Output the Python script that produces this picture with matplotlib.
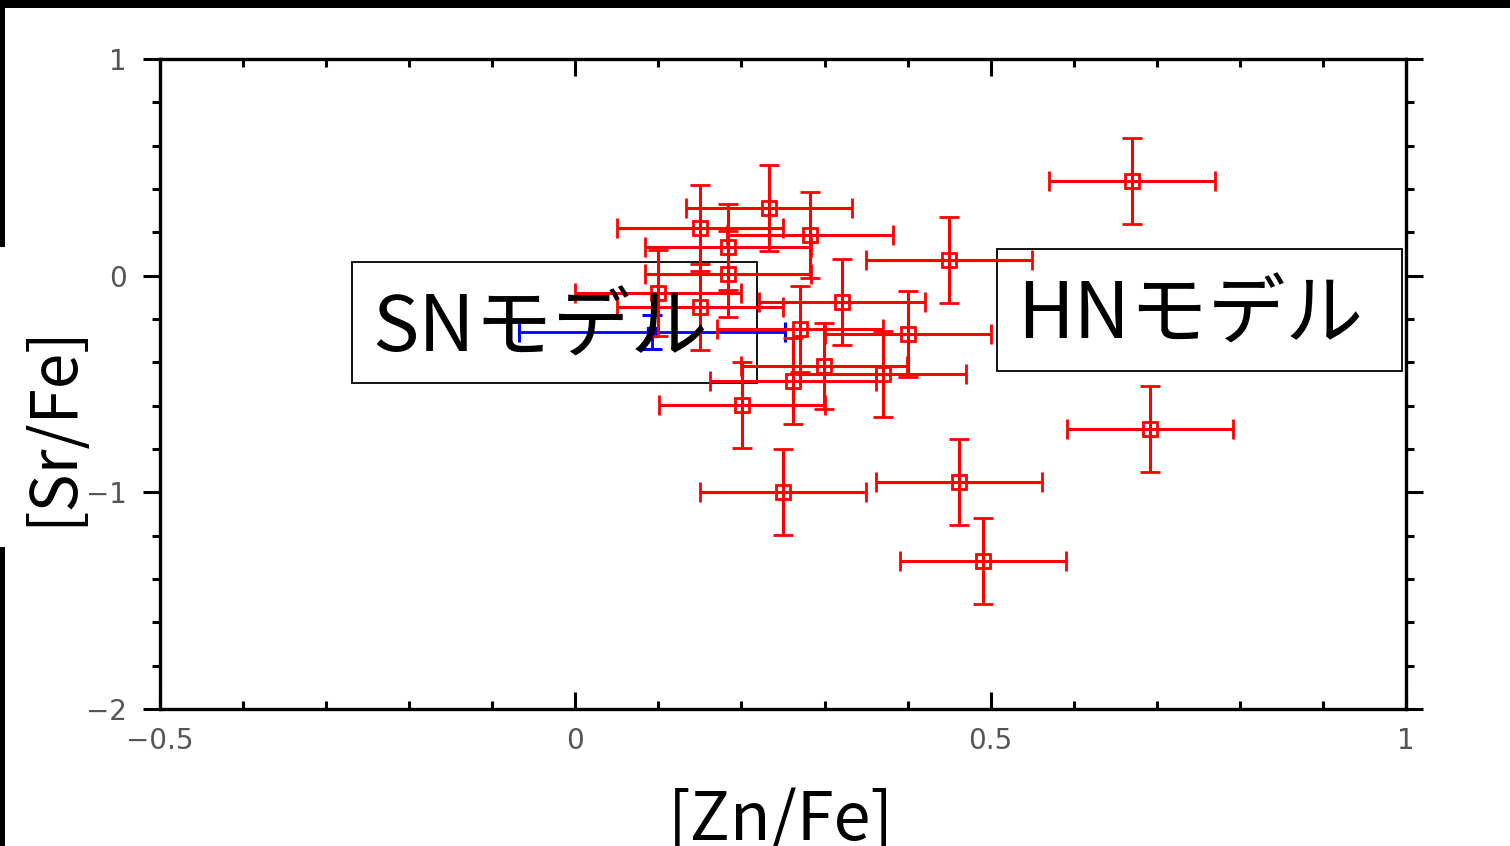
import matplotlib
matplotlib.use('Agg')
import matplotlib.pyplot as plt
from matplotlib.patches import Rectangle
from matplotlib.ticker import MultipleLocator

# red points: [Zn/Fe], [Sr/Fe] with errors
zn_fe = [0.670, 0.233, 0.150, 0.283, 0.184, 0.450, 0.184, 0.100, 0.321, 0.150,
         0.270, 0.400, 0.299, 0.370, 0.262, 0.692, 0.201, 0.250, 0.462, 0.491]
sr_fe = [0.437, 0.312, 0.220, 0.188, 0.132, 0.072, 0.008, -0.080, -0.122, -0.145,
         -0.246, -0.269, -0.417, -0.454, -0.486, -0.708, -0.597, -0.998, -0.952, -1.317]
zn_err = [0.10, 0.10, 0.10, 0.10, 0.10, 0.10, 0.10, 0.10, 0.10, 0.10,
          0.10, 0.10, 0.10, 0.10, 0.10, 0.10, 0.10, 0.10, 0.10, 0.10]
sr_err = [0.20, 0.20, 0.20, 0.20, 0.20, 0.20, 0.20, 0.20, 0.20, 0.20,
          0.20, 0.20, 0.20, 0.20, 0.20, 0.20, 0.20, 0.20, 0.20, 0.20]

# blue point
blue_x, blue_y = [0.092], [-0.26]
blue_xerr, blue_yerr = [0.16], [0.08]

jp = ['Noto Sans CJK JP', 'DejaVu Sans']

fig = plt.figure(figsize=(15.1, 8.46), dpi=100)
ax = fig.add_axes([160/1510, 137/846, 1246/1510, 650/846])

ax.errorbar(blue_x, blue_y, xerr=blue_xerr, yerr=blue_yerr, fmt='s', color='blue',
            ms=7, elinewidth=2, capsize=7, capthick=2.2, zorder=2)
ax.errorbar(zn_fe, sr_fe, xerr=zn_err, yerr=sr_err, fmt='s', color='red',
            mfc='none', mec='red', ms=10.5, mew=2, elinewidth=2.2,
            capsize=7, capthick=2.4, zorder=3)

ax.set_xlim(-0.5, 1)
ax.set_ylim(-2, 1)
ax.xaxis.set_major_locator(MultipleLocator(0.5))
ax.xaxis.set_minor_locator(MultipleLocator(0.1))
ax.yaxis.set_major_locator(MultipleLocator(1))
ax.yaxis.set_minor_locator(MultipleLocator(0.2))
ax.set_xticks([-0.5, 0, 0.5, 1])
ax.set_xticklabels(['\u22120.5', '0', '0.5', '1'])
ax.set_yticks([-2, -1, 0, 1])
ax.set_yticklabels(['\u22122', '\u22121', '0', '1'])

ax.tick_params(axis='x', which='both', direction='in', top=True, bottom=True,
               width=2.2, labelsize=20, labelcolor='#555555', pad=13)
ax.tick_params(axis='x', which='major', length=12)
ax.tick_params(axis='x', which='minor', length=6)
ax.tick_params(axis='y', which='both', direction='out', left=True, right=True,
               width=2.2, labelsize=20, labelcolor='#555555', pad=12)
ax.tick_params(axis='y', which='major', length=12)
ax.tick_params(axis='y', which='minor', length=6)
for s in ax.spines.values():
    s.set_linewidth(2.4)

# model boxes
ax.add_patch(Rectangle((0.154, 0.5015), 0.325, 0.186, transform=ax.transAxes,
                       fill=False, ec='black', lw=1.3, zorder=1, clip_on=False))
ax.add_patch(Rectangle((0.672, 0.52), 0.325, 0.188, transform=ax.transAxes,
                       fill=False, ec='black', lw=1.3, zorder=1, clip_on=False))
ax.text(0.170, 0.583, 'SNモデル', transform=ax.transAxes, fontsize=56,
        family=jp, ha='left', va='center', zorder=5)
ax.text(0.688, 0.603, 'HNモデル', transform=ax.transAxes, fontsize=56,
        family=jp, ha='left', va='center', zorder=5)

fig.text(781/1510, 6/846, '[Zn/Fe]', fontsize=48, family=jp, ha='center', va='baseline')
fig.text(71/1510, (846-425)/846, '[Sr/Fe]', fontsize=46, family=jp, rotation=90,
         rotation_mode='anchor', ha='center', va='baseline')

# black edge bars from the screenshot
fig.add_artist(Rectangle((0, 1 - 8/846), 1, 8/846, transform=fig.transFigure,
                         color='black', lw=0))
fig.add_artist(Rectangle((0, 1 - 247/846), 5/1510, 247/846, transform=fig.transFigure,
                         color='black', lw=0))
fig.add_artist(Rectangle((0, 0), 5/1510, (846-547)/846, transform=fig.transFigure,
                         color='black', lw=0))

fig.savefig('out.png', dpi=100, facecolor='white')
